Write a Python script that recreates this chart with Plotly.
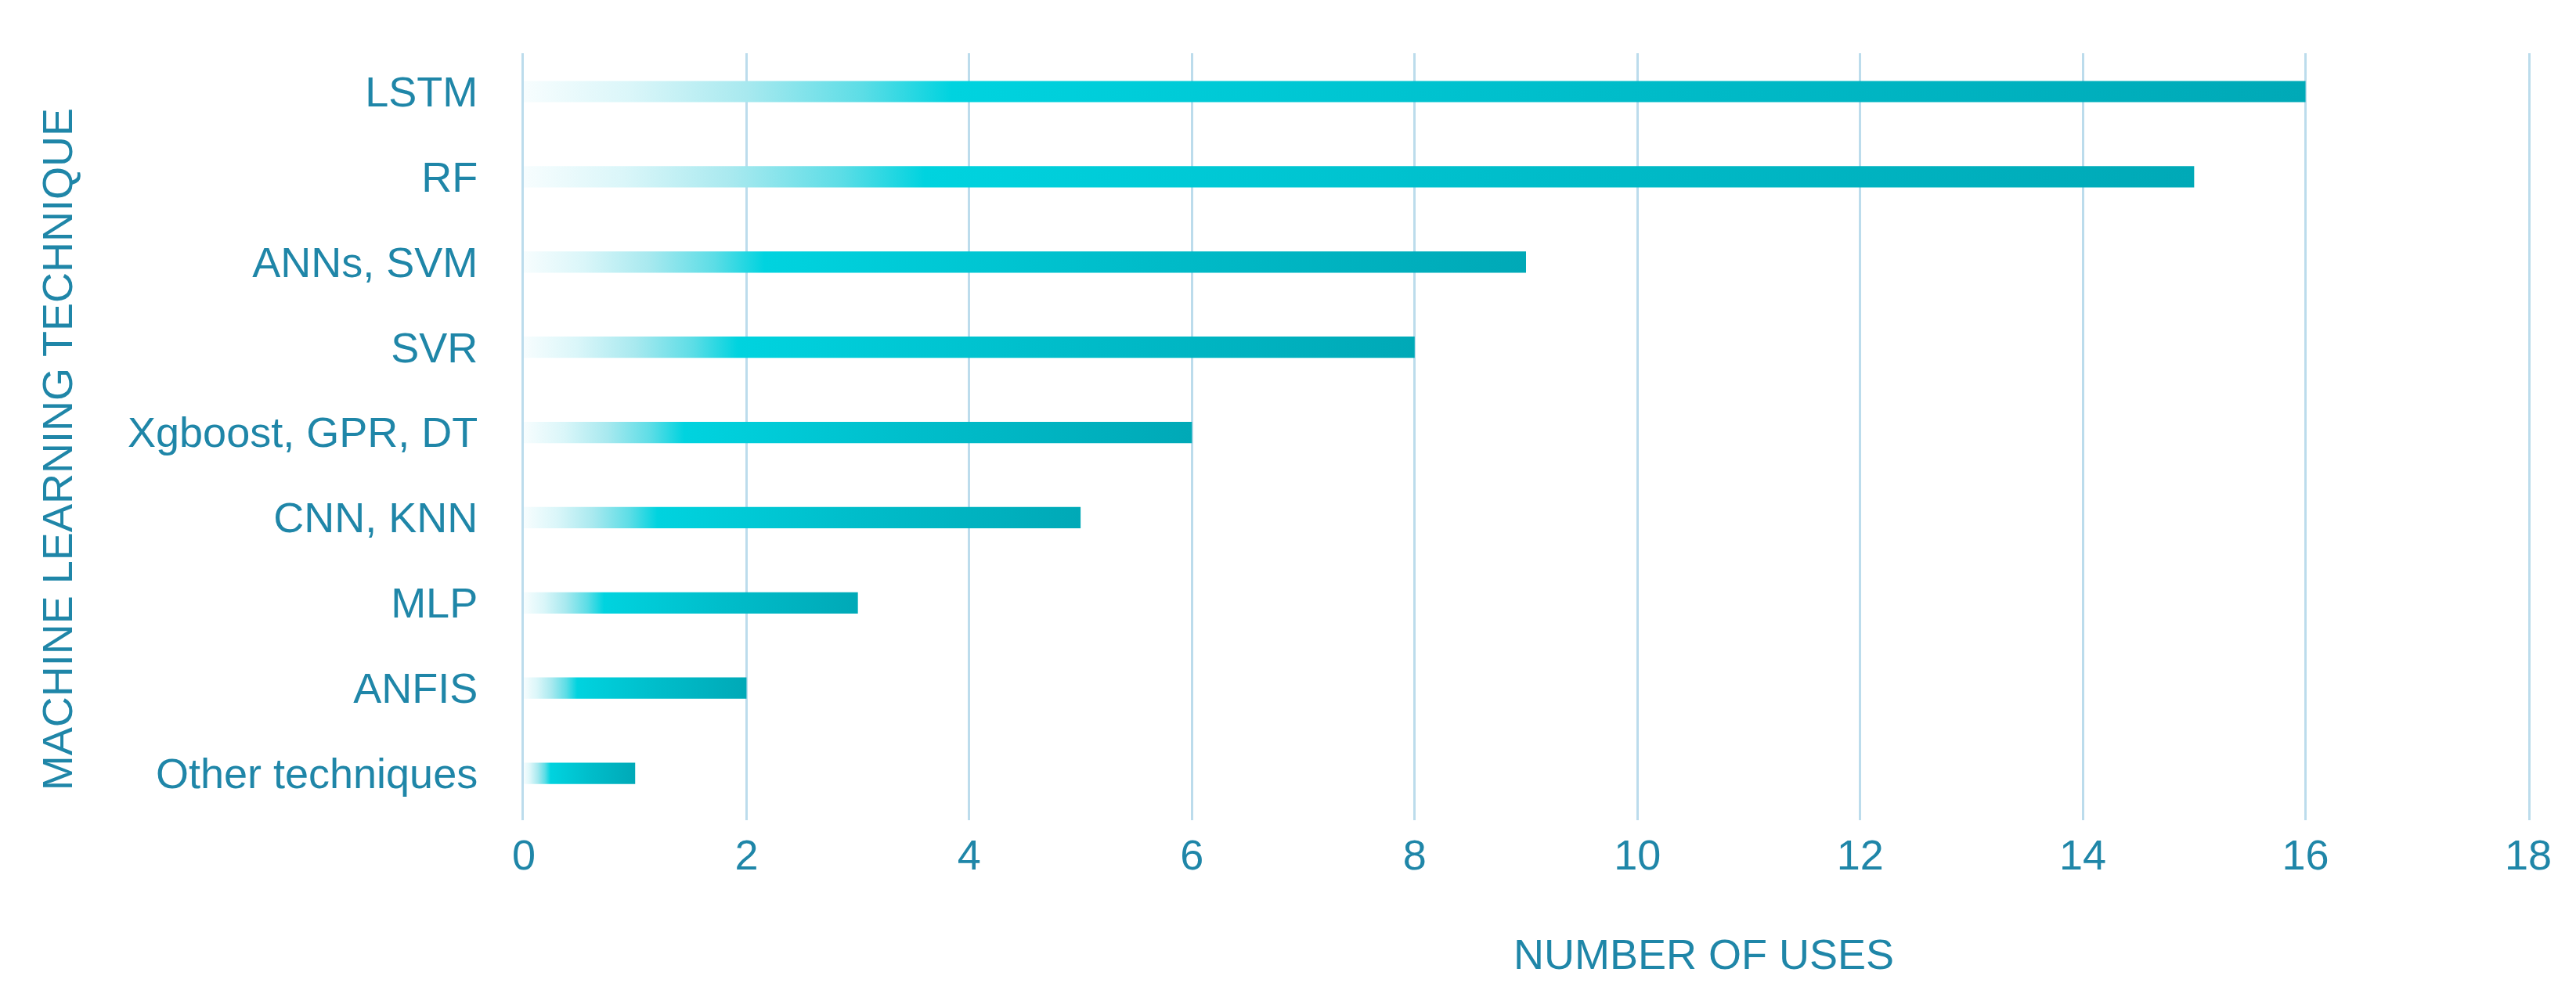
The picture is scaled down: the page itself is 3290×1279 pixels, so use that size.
import plotly.graph_objects as go

# ---- data (top to bottom as in the chart) ----
techniques = ["LSTM", "RF", "ANNs, SVM", "SVR", "Xgboost, GPR, DT",
              "CNN, KNN", "MLP", "ANFIS", "Other techniques"]
uses = [16, 15, 9, 8, 6, 5, 3, 2, 1]
x_ticks = [0, 2, 4, 6, 8, 10, 12, 14, 16, 18]

# ---- style ----
TEXT = "#1f86a8"
GRID = "#bcdcec"
FONT = "Liberation Sans, Arial, sans-serif"
BAR_HALF = 0.125
GRADIENT = [[0.0, "#f7fdfe"], [0.06, "#daf6f9"], [0.125, "#a8e9ef"],
            [0.19, "#5cdde6"], [0.24, "#00d3df"], [0.6, "#00bdca"],
            [1.0, "#00a9b7"]]

n = len(techniques)
fig = go.Figure()
for rank, (name, v) in enumerate(zip(techniques, uses)):
    yc = n - 1 - rank
    fig.add_trace(go.Scatter(
        x=[0, v, v, 0, 0],
        y=[yc - BAR_HALF, yc - BAR_HALF, yc + BAR_HALF, yc + BAR_HALF, yc - BAR_HALF],
        mode="lines", fill="toself", line=dict(width=0, color="rgba(0,0,0,0)"),
        fillgradient=dict(type="horizontal", colorscale=GRADIENT, start=0, stop=v),
        name=name, showlegend=False, hoverinfo="skip",
    ))

fig.update_layout(
    width=3290, height=1279,
    margin=dict(l=661, r=69, t=60, b=239),
    paper_bgcolor="white", plot_bgcolor="white",
    font=dict(family=FONT, size=54, color=TEXT),
    showlegend=False,
)
fig.update_xaxes(
    range=[0, 18], tickvals=x_ticks, ticktext=[str(t) for t in x_ticks],
    showgrid=True, gridcolor=GRID, gridwidth=3,
    zeroline=False, showline=False, ticks="",
    ticklabelstandoff=8, tickfont=dict(size=54, color=TEXT),
)
fig.update_yaxes(
    range=[-0.55, n - 1 + 0.45],
    tickvals=[n - 1 - i for i in range(n)], ticktext=techniques,
    showgrid=False, zeroline=False,
    showline=True, linecolor=GRID, linewidth=3, mirror=True, ticks="",
    ticklabelstandoff=45, tickfont=dict(size=54, color=TEXT),
)
fig.add_annotation(text="NUMBER OF USES", xref="paper", yref="paper",
                   x=0.5887, y=-0.1745, xanchor="center", yanchor="middle",
                   showarrow=False, font=dict(size=54, color=TEXT, family=FONT))
fig.add_annotation(text="MACHINE LEARNING TECHNIQUE", xref="paper", yref="paper",
                   x=-0.2330, y=0.4830, xanchor="center", yanchor="middle",
                   textangle=-90, showarrow=False,
                   font=dict(size=54, color=TEXT, family=FONT))

fig.write_html("out.html")
